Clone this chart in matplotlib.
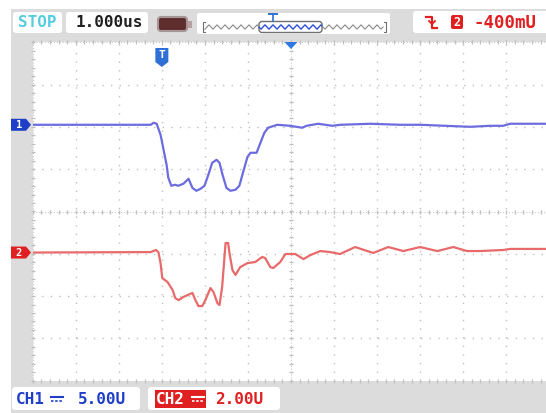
import numpy as np
import matplotlib
matplotlib.use('Agg')
import matplotlib.pyplot as plt
from matplotlib.patches import Rectangle, FancyBboxPatch, Polygon
from matplotlib.transforms import Affine2D

# time in us (1 us/div, trigger at -3 us), values in volts
t1 = [-5.98, -3.26, -3.19, -3.12, -3.03, -2.96, -2.89, -2.85, -2.78, -2.69, -2.62, -2.50,
      -2.38, -2.29, -2.20, -2.10, -2.01, -1.92, -1.83, -1.73, -1.66, -1.59, -1.50, -1.41,
      -1.29, -1.20, -1.11, -1.01, -0.94, -0.80, -0.71, -0.62, -0.53, -0.32, -0.02, 0.26,
      0.36, 0.63, 0.96, 1.14, 1.84, 2.54, 3.00, 3.58, 4.16, 4.63, 4.93, 5.09, 5.92]
ch1 = [0.0, 0.0, 0.24, 0.12, -1.18, -2.96, -4.73, -6.26, -7.21, -7.09, -7.21, -6.97,
       -6.38, -7.45, -7.80, -7.56, -7.21, -5.91, -4.49, -4.14, -4.49, -5.91, -7.45, -7.80,
       -7.68, -7.21, -5.56, -3.78, -3.31, -3.31, -2.13, -0.95, -0.35, 0.0, -0.12, -0.35,
       -0.12, 0.12, -0.12, 0.0, 0.12, 0.0, 0.0, -0.12, -0.24, -0.12, -0.12, 0.12, 0.12]

t2 = [-5.98, -3.26, -3.14, -3.08, -3.03, -2.99, -2.87, -2.75, -2.69, -2.61, -2.50, -2.29,
      -2.22, -2.15, -2.06, -1.99, -1.87, -1.80, -1.71, -1.66, -1.60, -1.55, -1.52, -1.46,
      -1.43, -1.36, -1.29, -1.18, -1.01, -0.83, -0.67, -0.60, -0.48, -0.41, -0.25, -0.13,
      0.10, 0.29, 0.45, 0.68, 0.91, 1.14, 1.49, 1.91, 2.26, 2.61, 3.00, 3.40, 3.77, 4.09,
      4.39, 4.93, 5.09, 5.92]
ch2 = [0.0, 0.02, 0.12, 0.02, -0.50, -1.21, -1.39, -1.77, -2.15, -2.25, -2.10, -1.91,
       -2.25, -2.53, -2.53, -2.25, -1.68, -1.87, -2.39, -2.48, -1.63, -0.35, 0.45, 0.45,
       -0.02, -0.83, -1.06, -0.69, -0.50, -0.45, -0.21, -0.26, -0.69, -0.73, -0.45, -0.07,
       -0.07, -0.31, -0.12, 0.07, 0.02, -0.07, 0.26, -0.02, 0.26, 0.07, 0.26, 0.07, 0.26, 0.07,
       0.07, 0.12, 0.17, 0.17]

ch1_scale = 5.0     # V/div
ch2_scale = 2.0     # V/div
ch1_offset = 2.05   # div
ch2_offset = -0.97  # div
trig_time = -3.0
timebase = '1.000us'
trig_level = '-400mU'
ch1_text = '5.00U'
ch2_text = '2.00U'

blue = '#6c6ce0'
red = '#e86a6a'
dark_blue = '#1f3fc8'
grid_c = '#c0c0c0'
mono = 'DejaVu Sans Mono'

W, H = 546, 413
fig = plt.figure(figsize=(W / 100, H / 100), dpi=100)
fig.patch.set_facecolor('white')
# pixel coordinates, origin top-left
px = Affine2D().scale(1 / W, -1 / H).translate(0, 1) + fig.transFigure

fig.patches.append(Rectangle((11, 9), W - 11, H - 9, fc='#dcdcdc', ec='none', transform=px, zorder=-5))

left, top, div = 32.7, 42.3, 43.05
ax = fig.add_axes([left / W, 1 - (top + 8 * 42.3) / H, 12 * div / W, 8 * 42.3 / H])
ax.set_zorder(1)
ax.set_xlim(-6, 6)
ax.set_ylim(-4, 4)
ax.set_facecolor('white')
for s in ax.spines.values():
    s.set_visible(False)
ax.set_xticks([])
ax.set_yticks([])

# graticule
for x in range(-5, 6):
    if x != 0:
        ax.vlines(x, -4, 4, colors=grid_c, lw=1, linestyles=(0, (1, 5.2)))
for y in range(-3, 4):
    if y != 0:
        ax.hlines(y, -6, 6, colors=grid_c, lw=1, linestyles=(0, (1, 5.2)))
xs = np.arange(-6, 6.01, 0.2)
ys = np.arange(-4, 4.01, 0.2)
ax.hlines([0, -4, 4], -6, 6, colors=grid_c, lw=0.7, linestyles=(0, (1, 2)))
ax.vlines([0, -6], -4, 4, colors=grid_c, lw=0.7, linestyles=(0, (1, 2)))
ax.plot(xs, np.zeros_like(xs), ls='none', marker='|', ms=3.5, color=grid_c, mew=1)
ax.plot(np.zeros_like(ys), ys, ls='none', marker='_', ms=3.5, color=grid_c, mew=1)
for yb in (-4, 4):
    ax.plot(xs, np.full_like(xs, yb), ls='none', marker='|', ms=3, color=grid_c, mew=0.9, clip_on=False)
ax.plot(np.full_like(ys, -6), ys, ls='none', marker='_', ms=3, color=grid_c, mew=0.9, clip_on=False)

ax.plot(t1, np.array(ch1) / ch1_scale + ch1_offset, color=blue, lw=1.6, zorder=5)
ax.plot(t2, np.array(ch2) / ch2_scale + ch2_offset, color=red, lw=1.6, zorder=5)


def box(x0, y0, x1, y1, fc='white', ec='none', r=3, z=2, lw=1):
    fig.patches.append(FancyBboxPatch((x0, y0), x1 - x0, y1 - y0,
                                      boxstyle='round,pad=0,rounding_size=%g' % r,
                                      fc=fc, ec=ec, lw=lw, transform=px, zorder=z))


def line(xv, yv, c, lw=1.0, ls='-'):
    fig.add_artist(plt.Line2D(xv, yv, color=c, lw=lw, ls=ls, transform=px, zorder=6))


def txt(x, y, s, c, size=11.5, ha='left'):
    fig.text(x, y, s, transform=px, color=c, fontsize=size, family=mono,
             fontweight='bold', ha=ha, va='center', zorder=7)


# header
box(13, 12, 62, 33)
txt(37.5, 22.5, 'STOP', '#55cde0', ha='center')
box(66, 12, 148, 33)
txt(109, 22.5, timebase, '#202020', ha='center')
box(158, 17, 187, 31, fc='#5e2e2e', ec='#a89494', r=3, z=3, lw=1.5)
fig.patches.append(Rectangle((187.5, 20.5), 4, 7, fc='#b8a0a0', ec='none', transform=px, zorder=3))
box(197, 13, 390, 34, r=2)
sq = np.linspace(205, 383, 500)
zig = 27 + 2.2 * (2 * np.abs(((sq - 205) / 4.0) % 2 - 1) - 1)
inside = (sq > 259) & (sq < 322)
line(np.where(inside, np.nan, sq), zig, '#8a8a8a', lw=0.8)
line(np.where(inside, sq, np.nan), zig, '#3050d0', lw=1.0)
box(259, 21.5, 322, 32.5, fc='none', ec='#707070', r=3, z=5)
for bx, d in ((203, 1), (386, -1)):
    line([bx + 2 * d, bx, bx, bx + 2 * d], [22, 22, 32, 32], '#707070', lw=0.8)
line([273, 273], [14, 21], '#3070d0', lw=1.2)
line([269, 277], [14, 14], '#3070d0', lw=1.4)

box(413, 11, W + 5, 33)
line([426, 432, 432, 437], [17, 17, 28, 28], '#e02020', lw=1.6)
line([429, 432, 435], [21, 24, 21], '#e02020', lw=1.3)
box(451, 15, 463, 29, fc='#e02020', r=2, z=3)
txt(457, 22.5, '2', 'white', size=8.5, ha='center')
txt(474, 22.5, trig_level, '#e02020', size=12.5)

# trigger markers
cx = left + (trig_time + 6) * div
fig.patches.append(Polygon([(cx - 6.5, 48), (cx + 6.5, 48), (cx + 6.5, 62), (cx, 67), (cx - 6.5, 62)],
                           closed=True, fc='#2f6fd6', ec='none', transform=px, zorder=4))
txt(cx, 55.5, 'T', 'white', size=8, ha='center')
mx = left + 6 * div
fig.patches.append(Polygon([(mx - 6.5, 42), (mx + 6.5, 42), (mx, 49)], closed=True,
                           fc='#2f7ae0', ec='none', transform=px, zorder=4))

# channel markers
for off, col, lab in ((ch1_offset, dark_blue, '1'), (ch2_offset, '#e02020', '2')):
    yc = top + (4 - off) * 42.3
    fig.patches.append(Polygon([(11, yc - 6), (26, yc - 6), (31, yc), (26, yc + 6), (11, yc + 6)],
                               closed=True, fc=col, ec='none', transform=px, zorder=4))
    txt(19, yc + 0.5, lab, 'white', size=7.5, ha='center')

# footer
box(12, 387, 140, 410)
txt(16, 399, 'CH1', dark_blue)
line([51, 63], [396.5, 396.5], dark_blue, lw=1.5)
line([51, 63], [401, 401], dark_blue, lw=1.2, ls=(0, (1.5, 1)))
txt(78, 399, ch1_text, dark_blue)
box(148, 387, 280, 410)
fig.patches.append(Rectangle((155, 390), 51, 18, fc='#e02020', ec='none', transform=px, zorder=3))
txt(156, 399, 'CH2', 'white')
line([192, 204], [396.5, 396.5], 'white', lw=1.5)
line([192, 204], [401, 401], 'white', lw=1.2, ls=(0, (1.5, 1)))
txt(215, 399, ch2_text, '#e02020')

fig.savefig('out.png', dpi=100)
